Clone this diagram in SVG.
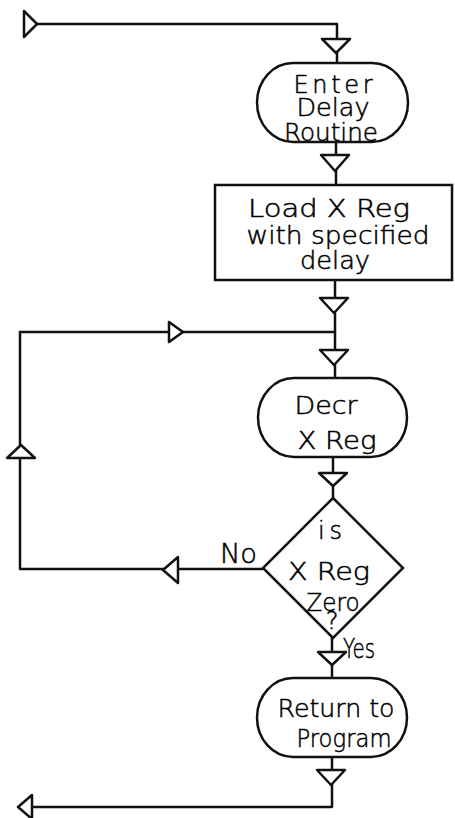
<svg xmlns="http://www.w3.org/2000/svg" width="455" height="818" viewBox="0 0 455 818">
<style>
.ln{fill:none;stroke:#111;stroke-width:2.5;stroke-linejoin:round;stroke-linecap:round}
.ar{fill:#fff;stroke:#111;stroke-width:2.5;stroke-linejoin:round}
.nd{fill:#fff;stroke:#111;stroke-width:2.5}
.t{font-family:"DejaVu Sans","Liberation Sans",sans-serif;font-weight:300;font-size:24px;fill:#000;stroke:#000;stroke-width:0.5;text-anchor:middle}
.s{font-family:"DejaVu Sans","Liberation Sans",sans-serif;font-weight:300;font-size:26px;fill:#000;stroke:#000;stroke-width:0.5}
</style>
<rect width="455" height="818" fill="#fff"/>
<g id="connectors">
<path class="ln" d="M24,24 H337 V63"/>
<path class="ln" d="M336,142 V185"/>
<path class="ln" d="M335,280 V378"/>
<path class="ln" d="M20,332 H335"/>
<path class="ln" d="M333,457 V498"/>
<path class="ln" d="M263,569 H20 V332"/>
<path class="ln" d="M332,638 V678"/>
<path class="ln" d="M332,757 V807 H30"/>
<polygon class="ar" points="24,11 37,24 24,37"/>
<polygon class="ar" points="322,39 350,39 336,53"/>
<polygon class="ar" points="321,155 349,155 335,171"/>
<polygon class="ar" points="320,298 348,298 334,313"/>
<polygon class="ar" points="169,322 183,332 169,342"/>
<polygon class="ar" points="320,350 348,350 334,365"/>
<polygon class="ar" points="7,458 35,458 21,445"/>
<polygon class="ar" points="319,473 347,473 333,486"/>
<polygon class="ar" points="178,557 178,583 163,570"/>
<polygon class="ar" points="318,652 346,652 332,665"/>
<polygon class="ar" points="317,770 345,770 331,785"/>
<polygon class="ar" points="32,795 32,819 18,807"/>
<text class="s" x="220" y="563" textLength="37" lengthAdjust="spacingAndGlyphs">No</text>
<text class="s" x="343" y="658" font-size="24" textLength="32" lengthAdjust="spacingAndGlyphs">Yes</text>
</g>
<g id="enter">
<rect class="nd" x="257" y="63" width="151" height="79" rx="36" ry="39.5"/>
<text class="t" x="333" y="93" textLength="79" lengthAdjust="spacing">Enter</text>
<text class="t" x="333" y="116" textLength="73" lengthAdjust="spacingAndGlyphs">Delay</text>
<text class="t" x="331" y="141" textLength="94" lengthAdjust="spacingAndGlyphs">Routine</text>
</g>
<g id="load">
<rect class="nd" x="215" y="185" width="237" height="95"/>
<text class="t" x="329" y="217" textLength="162" lengthAdjust="spacingAndGlyphs">Load X Reg</text>
<text class="t" x="338" y="244" textLength="183" lengthAdjust="spacingAndGlyphs">with specified</text>
<text class="t" x="335" y="269" textLength="70" lengthAdjust="spacingAndGlyphs">delay</text>
</g>
<g id="decr">
<rect class="nd" x="258" y="378" width="149" height="79" rx="36" ry="39.5"/>
<text class="t" x="326" y="414" textLength="63" lengthAdjust="spacingAndGlyphs">Decr</text>
<text class="t" x="337" y="449" textLength="79" lengthAdjust="spacingAndGlyphs">X Reg</text>
</g>
<g id="decision">
<polygon class="nd" points="333,498 403,568 333,638 263,568"/>
<text class="t" x="330" y="539" font-size="21" textLength="24" lengthAdjust="spacing">is</text>
<text class="t" x="329" y="580" textLength="82" lengthAdjust="spacingAndGlyphs">X Reg</text>
<text class="t" x="333" y="611" font-size="23" textLength="53" lengthAdjust="spacingAndGlyphs">Zero</text>
<text class="t" x="332" y="629" font-size="17">?</text>
</g>
<g id="return">
<rect class="nd" x="257" y="678" width="150" height="79" rx="36" ry="39.5"/>
<text class="t" x="336" y="717" textLength="117" lengthAdjust="spacingAndGlyphs">Return to</text>
<text class="t" x="344" y="747" textLength="95" lengthAdjust="spacingAndGlyphs">Program</text>
</g>
</svg>
